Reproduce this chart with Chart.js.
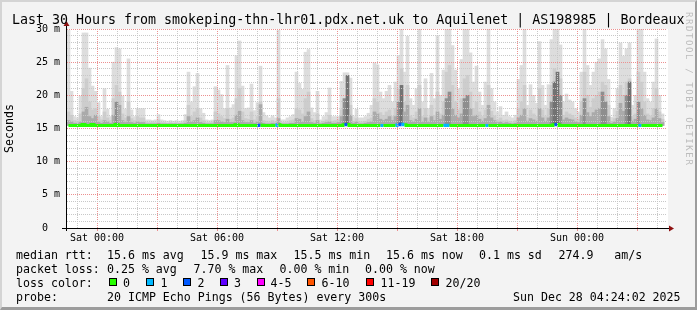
<!DOCTYPE html>
<html>
<head>
<meta charset="utf-8">
<script src="https://cdn.jsdelivr.net/npm/chart.js@4.4.1/dist/chart.umd.min.js"></script>
<style>
  html, body { margin:0; padding:0; background:#f3f3f3; }
  #frame { position:relative; width:697px; height:310px; background:#f3f3f3; overflow:hidden;
           font-family:"DejaVu Sans Mono", monospace; color:#000; }
  #bevel { position:absolute; left:0; top:0; width:697px; height:310px; box-sizing:border-box;
           border-top:2px solid #d4d4d4; border-left:2px solid #d4d4d4;
           border-right:2px solid #9c9c9c; border-bottom:3px solid #9c9c9c; pointer-events:none; z-index:5; }
  #c { position:absolute; left:0; top:0; z-index:2; }
  .t { position:absolute; white-space:pre; z-index:3; }
  .lg { font-size:11.6px; line-height:14px; }
  .sq { position:absolute; width:8px; height:8px; box-sizing:border-box; border:1px solid #000; z-index:3; }
  #wm { position:absolute; left:683px; top:12px; writing-mode:vertical-rl; font-size:9px; line-height:11px;
        letter-spacing:1.6px; color:#bcbcbc; white-space:pre; z-index:3; }
</style>
</head>
<body>
<div id="frame">
  <canvas id="c" width="697" height="310"></canvas>
  <div class="t" style="left:12px;top:12px;font-size:13.3px;line-height:15px;">Last 30 Hours from smokeping-thn-lhr01.pdx.net.uk to Aquilenet | AS198985 | Bordeaux</div>
  <div id="wm">RRDTOOL / TOBI OETIKER</div>
  <div id="legend"></div>
  <div id="bevel"></div>
</div>
<script>
// ---- time base: samples every 9 minutes, axis in hours relative to Sat 00:00
const axisStartHour = -1.5;   // Fri 22:30
const axisEndHour = 28.5;     // Sun 04:30
const sampleStepHours = 0.15;

// ---- smoke: top of outer (light) smoke band, per sample (ms)
const smokeOuter = [
29.8,20.6,16.8,16.6,19.9,29.4,29.4,24.1,21.4,20.6, 18.9,16.8,21.0,17.9,16.8,25.0,27.2,27.0,19.9,17.9,
25.5,17.8,16.8,18.0,18.0,18.0,16.3,16.3,16.2,16.3, 17.1,16.3,16.2,16.1,16.2,16.1,16.2,16.1,16.2,17.1,
23.5,19.0,21.3,23.3,18.0,17.3,16.3,16.2,16.3,21.3, 20.8,20.1,18.0,24.5,18.1,18.6,26.0,28.2,21.4,18.0,
18.1,21.7,17.7,18.9,24.4,17.4,16.9,16.6,16.9,16.6, 29.8,16.3,16.3,16.6,16.8,17.1,23.5,21.8,20.9,26.5,
26.9,18.1,17.4,20.6,16.3,16.8,17.4,21.1,16.8,16.8, 16.8,22.1,23.4,23.4,22.6,16.8,17.9,16.6,16.6,16.8,
17.3,18.5,24.9,24.6,20.5,19.5,20.6,21.5,19.0,22.0, 26.0,30.5,23.5,28.9,19.5,18.5,21.0,30.5,19.0,22.5,
18.0,23.3,19.5,29.0,20.0,23.8,30.5,30.5,27.5,23.8, 21.0,25.4,30.5,30.5,26.4,22.0,24.4,20.5,18.5,22.0,
30.5,21.0,19.0,17.5,18.3,17.0,17.5,16.8,16.6,17.0, 22.4,24.5,30.0,18.5,21.6,20.0,18.8,28.1,21.5,18.5,
21.6,28.4,30.5,30.5,27.6,19.0,20.2,19.3,19.0,18.0, 17.5,23.5,30.5,24.5,21.5,23.5,25.0,25.5,28.4,27.0,
22.4,16.7,18.0,21.0,27.9,25.9,27.0,27.9,18.5,20.0, 30.3,30.0,23.5,19.5,19.0,22.0,28.5,20.0,17.2,null
];
// ---- smoke: top of middle band
const smokeMid = [
17.5,17.0,16.2,16.1,17.2,21.0,22.5,19.0,17.8,18.0, 16.8,16.3,17.5,16.6,16.2,19.5,21.5,20.5,17.2,16.6,
19.0,16.5,16.2,16.8,16.6,16.6,16.0,15.9,16.0,15.9, 16.3,15.9,15.9,15.8,15.9,15.8,15.9,15.8,15.9,16.2,
18.5,16.8,17.5,18.0,16.6,16.2,15.9,15.9,16.0,17.5, 17.2,16.8,16.5,18.0,16.4,16.6,19.5,21.0,17.5,16.5,
16.4,17.5,16.3,16.8,19.0,16.2,16.1,16.0,16.2,16.0, 19.5,15.9,15.9,16.0,16.2,16.3,18.0,17.8,17.2,19.5,
20.5,16.5,16.2,17.2,15.9,16.1,16.3,17.0,16.1,16.2, 16.3,17.8,19.5,22.0,18.5,16.1,16.5,16.0,16.0,16.1,
16.4,16.6,19.5,19.0,17.4,17.0,17.5,17.8,16.8,18.0, 21.0,24.0,19.0,21.5,16.9,16.6,17.5,21.5,16.8,18.0,
16.6,18.5,17.0,20.5,17.2,19.0,23.5,24.5,21.5,19.0, 17.8,19.5,22.5,23.0,20.5,18.0,19.0,17.5,16.8,17.8,
21.5,17.6,16.9,16.3,16.6,16.2,16.3,16.1,16.0,16.2, 18.0,19.0,21.5,16.7,17.8,17.2,16.8,21.0,17.8,16.8,
18.0,21.5,24.0,23.5,22.5,17.0,17.5,17.2,17.0,16.6, 16.4,19.0,23.5,20.0,18.2,19.5,20.0,20.5,22.0,21.5,
18.5,16.1,16.5,17.6,21.5,20.0,22.0,22.5,16.8,17.2, 23.5,22.0,19.0,17.2,16.9,18.0,21.0,17.5,16.4,null
];
// ---- smoke: top of dark core band
const smokeCore = [
16.2,16.0,15.8,15.8,16.0,17.5,18.2,16.8,16.5,17.0, 16.0,15.8,16.2,16.0,15.8,17.0,19.0,18.5,16.2,15.9,
16.8,15.9,15.8,16.0,15.9,15.9,15.7,15.7,15.7,15.7, 15.8,15.7,15.7,15.7,15.7,15.7,15.7,15.7,15.7,15.8,
16.8,16.0,16.2,16.6,15.9,15.8,15.7,15.7,15.7,16.2, 16.2,16.0,15.9,16.4,15.9,15.9,17.0,17.6,16.2,15.9,
15.9,16.2,15.8,16.0,18.6,15.8,15.7,15.7,15.8,15.7, 16.5,15.7,15.7,15.7,15.8,15.8,16.5,16.4,16.0,16.8,
17.5,15.9,15.8,16.2,15.7,15.8,15.9,16.0,15.8,15.8, 15.9,16.8,19.5,23.0,17.0,15.8,16.0,15.7,15.7,15.8,
15.9,16.0,17.5,17.2,16.4,16.2,16.4,16.8,16.2,16.8, 19.0,21.5,17.5,18.5,16.2,16.0,16.4,18.0,16.0,16.6,
16.0,16.8,16.2,17.5,16.4,17.0,19.5,20.5,18.0,17.0, 16.6,17.2,19.5,20.0,18.0,16.8,17.0,16.4,16.1,16.5,
18.5,16.6,16.2,15.9,16.0,15.8,15.9,15.8,15.7,15.8, 16.6,17.0,18.0,16.1,16.5,16.3,16.1,18.0,16.6,16.1,
16.6,19.0,22.0,23.5,20.0,16.3,16.6,16.4,16.3,16.0, 15.9,17.0,19.5,17.4,16.8,17.4,17.8,18.0,20.5,19.0,
16.8,15.8,16.0,16.5,18.8,17.6,20.0,22.0,16.1,16.4, 19.0,18.0,17.0,16.3,16.2,16.6,18.0,16.5,15.9,null
];
// ---- median rtt per sample (ms)
const medianRtt = [
15.45,15.45,15.45,15.45,15.45,15.6,15.45,15.45,15.6,15.45,15.45,15.45,15.45,15.45,15.45,15.45,15.6,15.45,15.45,15.45,
15.45,15.45,15.45,15.45,15.45,15.45,15.45,15.45,15.45,15.45,15.45,15.45,15.45,15.45,15.45,15.45,15.45,15.45,15.45,15.45,
15.45,15.45,15.45,15.45,15.45,15.45,15.45,15.45,15.45,15.45,15.45,15.45,15.45,15.45,15.45,15.45,15.55,15.45,15.45,15.45,
15.45,15.45,15.45,15.45,15.5,15.45,15.45,15.45,15.45,15.45,15.55,15.45,15.45,15.45,15.45,15.45,15.45,15.45,15.45,15.45,
15.45,15.45,15.45,15.45,15.45,15.45,15.45,15.45,15.45,15.45,15.45,15.45,15.55,15.6,15.45,15.45,15.45,15.45,15.45,15.45,
15.45,15.45,15.45,15.45,15.45,15.45,15.45,15.45,15.45,15.45,15.55,15.65,15.55,15.45,15.45,15.45,15.45,15.45,15.45,15.45,
15.45,15.45,15.45,15.45,15.45,15.45,15.5,15.45,15.45,15.45,15.45,15.45,15.45,15.45,15.45,15.45,15.45,15.45,15.45,15.45,
15.45,15.45,15.45,15.45,15.45,15.45,15.45,15.45,15.45,15.45,15.45,15.45,15.45,15.45,15.45,15.45,15.45,15.45,15.45,15.45,
15.45,15.45,15.55,15.6,15.45,15.45,15.45,15.45,15.45,15.45,15.45,15.45,15.45,15.45,15.45,15.45,15.45,15.45,15.45,15.45,
15.45,15.45,15.45,15.45,15.45,15.45,15.45,15.45,15.45,15.45,15.45,15.45,15.45,15.45,15.45,15.45,15.45,15.45,15.45,null
];
// ---- lost pings (of 20) per sample
const lostPings = [
0,0,0,0,0,0,0,0,0,0,0,0,0,0,0,0,0,0,0,0,
0,0,0,0,0,0,0,0,0,0,0,0,0,0,0,0,0,0,0,0,
0,0,0,0,0,0,0,0,0,0,0,0,0,0,0,0,0,0,0,0,
0,0,0,0,2,0,0,0,0,0,1,0,0,0,0,0,0,0,0,0,
0,0,0,0,0,0,0,0,0,0,0,0,0,2,0,0,0,0,0,0,
0,0,0,0,0,1,0,0,0,0,1,2,1,0,0,0,0,0,0,0,
0,0,0,0,0,0,1,1,0,0,0,0,0,0,0,0,0,0,0,0,
1,0,0,0,0,0,0,0,0,0,0,0,0,0,0,0,0,0,0,0,
0,0,0,2,0,0,0,0,0,0,0,0,0,0,0,0,0,0,0,0,
0,0,0,0,0,0,0,0,0,0,0,1,0,0,0,0,0,0,0,null
];
// ---- loss colour legend
const lossLabels = ['0','1','2','3','4-5','6-10','11-19','20/20'];
const lossColors = ['#26ff00','#00b8ff','#0059ff','#5e00ff','#ff00ff','#ff5500','#ff0000','#a10000'];
// ---- x tick labels
const xTickHours = [0, 6, 12, 18, 24];
const xTickLabels = ['Sat 00:00','Sat 06:00','Sat 12:00','Sat 18:00','Sun 00:00'];

function lossIndex(n){ if(n==null) return 0; if(n<=3) return n; if(n<=5) return 4; if(n<=10) return 5; if(n<=19) return 6; return 7; }
const sampleX = smokeOuter.map((_, i) => axisStartHour + sampleStepHours * (i + 0.5));
const band = arr => arr.map((v, i) => ({ x: sampleX[i], y: (v == null || medianRtt[i] == null) ? null : [medianRtt[i], v] }));

const MONO = '"DejaVu Sans Mono", monospace';
const MAJOR = '#ec9090';
const MINOR = '#c8c8c8';

const plotBg = {
  id: 'plotBg',
  beforeDraw(chart) {
    const { ctx, chartArea: a } = chart;
    ctx.save(); ctx.fillStyle = '#ffffff';
    ctx.fillRect(a.left, a.top, a.right - a.left + 1, a.bottom - a.top);
    ctx.restore();
  },
  afterDraw(chart) {
    const { ctx, chartArea: a } = chart;
    ctx.save();
    ctx.strokeStyle = '#000'; ctx.lineWidth = 1;
    ctx.beginPath();
    ctx.moveTo(a.left - 0.5, a.bottom + 3); ctx.lineTo(a.left - 0.5, a.top - 4);
    ctx.moveTo(a.left - 5, a.bottom + 0.5); ctx.lineTo(a.right + 3, a.bottom + 0.5);
    ctx.stroke();
    ctx.fillStyle = '#8e1111';
    ctx.beginPath();
    ctx.moveTo(a.left - 0.5, a.top - 8); ctx.lineTo(a.left - 3.5, a.top - 3); ctx.lineTo(a.left + 2.5, a.top - 3); ctx.closePath();
    ctx.fill();
    ctx.beginPath();
    ctx.moveTo(a.right + 7, a.bottom + 0.5); ctx.lineTo(a.right + 2, a.bottom - 2.5); ctx.lineTo(a.right + 2, a.bottom + 3.5); ctx.closePath();
    ctx.fill();
    ctx.restore();
  }
};

const barCommon = { type: 'bar', grouped: false, barThickness: 3, borderWidth: 0, borderSkipped: false };

new Chart(document.getElementById('c'), {
  type: 'bar',
  data: {
    datasets: [
      Object.assign({ label: 'smoke outer', data: band(smokeOuter), backgroundColor: '#dddddd', order: 4 }, barCommon),
      Object.assign({ label: 'smoke mid', data: band(smokeMid), backgroundColor: '#cdcdcd', order: 3 }, barCommon),
      Object.assign({ label: 'smoke core', data: band(smokeCore), order: 2,
        backgroundColor: c => { const v = smokeCore[c.dataIndex]; return v >= 21 ? '#727272' : v >= 19 ? '#8e8e8e' : '#aaaaaa'; } }, barCommon),
      {
        type: 'line', label: 'median rtt', order: 1,
        data: medianRtt.map((v, i) => ({ x: sampleX[i], y: v })),
        borderColor: lossColors[0], borderWidth: 3, pointRadius: 0, stepped: 'middle',
        borderCapStyle: 'butt', spanGaps: false,
        segment: { borderColor: c => lossColors[lossIndex(lostPings[c.p1DataIndex])] }
      }
    ]
  },
  options: {
    responsive: false, animation: false, events: [],
    layout: { padding: { left: 0, top: 29, right: 30, bottom: 62 } },
    plugins: { legend: { display: false }, tooltip: { enabled: false } },
    scales: {
      x: {
        type: 'linear', min: axisStartHour, max: axisEndHour, offset: false,
        afterBuildTicks: s => { const t = []; for (let h = Math.ceil(axisStartHour); h <= Math.floor(axisEndHour); h++) t.push({ value: h }); s.ticks = t; },
        afterFit: s => { s.height = 20; },
        grid: { z: 1, offset: false, lineWidth: 1, drawTicks: true, tickLength: 3,
                color: c => (c.tick && c.tick.value % 3 === 0) ? MAJOR : MINOR,
                tickColor: c => (c.tick && c.tick.value % 3 === 0) ? MAJOR : 'rgba(0,0,0,0)' },
        border: { display: false, dash: [1, 1] },
        ticks: { autoSkip: false, maxRotation: 0, minRotation: 0, padding: 1, color: '#000',
                 font: { family: MONO, size: 10 },
                 callback: v => { const k = xTickHours.indexOf(v); return k >= 0 ? xTickLabels[k] : ''; } }
      },
      y: {
        type: 'linear', min: 0, max: 30,
        afterFit: s => { s.width = 67; },
        grid: { z: 1, drawTicks: false, lineWidth: 1,
                color: c => (c.tick && c.tick.value % 5 === 0) ? MAJOR : MINOR },
        border: { display: false, dash: [1, 1] },
        ticks: { stepSize: 1, autoSkip: false, padding: 7, color: '#000', font: { family: MONO, size: 10 },
                 callback: v => v % 5 === 0 ? (v === 0 ? '0  ' : v + ' m') : '' },
        title: { display: true, text: 'Seconds', color: '#000', font: { family: MONO, size: 11.6 }, padding: { top: 3.5, bottom: 0 } }
      }
    }
  },
  plugins: [plotBg]
});

// ---- text legend (HTML)
const legendRows = [
  { top: 248, items: [[16,'median rtt:'],[107,'15.6 ms avg'],[200.5,'15.9 ms max'],[293.5,'15.5 ms min'],[386,'15.6 ms now'],[479,'0.1 ms sd'],[558.5,'274.9   am/s']] },
  { top: 262, items: [[16,'packet loss:'],[107,'0.25 % avg'],[193.5,'7.70 % max'],[279.5,'0.00 % min'],[365,'0.00 % now']] },
  { top: 276, items: [[16,'loss color:']] },
  { top: 290, items: [[16,'probe:'],[107,'20 ICMP Echo Pings (56 Bytes) every 300s'],[513,'Sun Dec 28 04:24:02 2025']] }
];
const lossSquareX = [108.5, 145.5, 182.5, 219.5, 256.5, 307, 365.5, 430.5];
const lossLabelX = [123, 160.5, 197.5, 234, 270.5, 321.5, 380.5, 445.5];
const lg = document.getElementById('legend');
legendRows.forEach(r => r.items.forEach(([x, s]) => {
  const d = document.createElement('div'); d.className = 't lg';
  d.style.left = x + 'px'; d.style.top = r.top + 'px'; d.textContent = s; lg.appendChild(d);
}));
lossLabels.forEach((lab, k) => {
  const q = document.createElement('div'); q.className = 'sq';
  q.style.left = lossSquareX[k] + 'px'; q.style.top = '278px'; q.style.background = lossColors[k]; lg.appendChild(q);
  const d = document.createElement('div'); d.className = 't lg';
  d.style.left = lossLabelX[k] + 'px'; d.style.top = '276px'; d.textContent = lab; lg.appendChild(d);
});
</script>
</body>
</html>
